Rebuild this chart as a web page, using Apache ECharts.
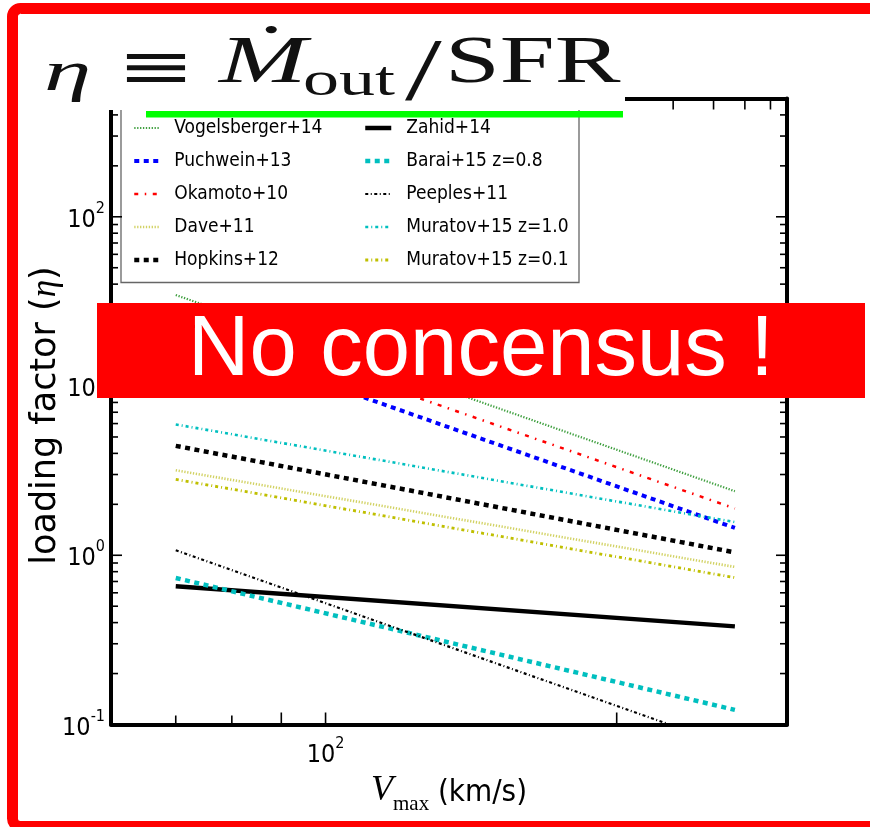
<!DOCTYPE html>
<html>
<head>
<meta charset="utf-8">
<script src="https://cdn.jsdelivr.net/npm/echarts@6/dist/echarts.min.js"></script>
<style>
html,body{margin:0;padding:0;background:#fff;}
#chart{width:870px;height:827px;}
</style>
</head>
<body>
<div id="chart"></div>
<script>
// ---------------- DATA ----------------
const vmaxEnds = [70, 265];                 // km/s, start and end of every relation
const vogelsberger14 = [34.5, 2.39];
const puchwein13     = [21.1, 1.45];
const okamoto10      = [27.0, 1.89];
const dave11         = [3.18, 0.853];
const hopkins12      = [4.43, 1.04];
const zahid14        = [0.656, 0.380];
const barai15z08     = [0.734, 0.122];
const peeples11      = [1.07, 0.073];
const muratov15z10   = [5.93, 1.57];
const muratov15z01   = [2.81, 0.738];

const legendCol1 = ['Vogelsberger+14', 'Puchwein+13', 'Okamoto+10', 'Dave+11', 'Hopkins+12'];
const legendCol2 = ['Zahid+14', 'Barai+15 z=0.8', 'Peeples+11', 'Muratov+15 z=1.0', 'Muratov+15 z=0.1'];

const xRange = [60, 300];
const yRange = [0.1, 500];
const topAxisRange = [5.47, 675];
const xTicksLong = [90, 100, 200];
const xTicksShort = [70, 80];
const topTicks = [300, 400, 500, 600];
const yTicksMajor = [0.1, 1, 10, 100];
const yTicksMinor = [0.2, 0.3, 0.4, 0.5, 0.6, 0.7, 0.8, 0.9,
                     2, 3, 4, 5, 6, 7, 8, 9,
                     20, 30, 40, 50, 60, 70, 80, 90,
                     200, 300, 400];

// ---------------- STYLE ----------------
const FONT_C = '"DejaVu Sans Condensed", "Liberation Sans Narrow", "DejaVu Sans", sans-serif';
const SERIF = '"Liberation Serif", "DejaVu Serif", serif';

const seriesDefs = [
  {name: 'Vogelsberger+14', vals: vogelsberger14, color: '#3f9f3f', width: 2.2, type: [1.3, 1.6]},
  {name: 'Puchwein+13',     vals: puchwein13,     color: '#0000ff', width: 4,   type: [5, 4.5]},
  {name: 'Okamoto+10',      vals: okamoto10,      color: '#ff0000', width: 2.5, type: [4, 6.5, 1.5, 6.5]},
  {name: 'Dave+11',         vals: dave11,         color: '#d2d264', width: 2.6, type: [1.3, 1.6]},
  {name: 'Hopkins+12',      vals: hopkins12,      color: '#000000', width: 4.5, type: [5, 4.5]},
  {name: 'Zahid+14',        vals: zahid14,        color: '#000000', width: 4.5, type: 'solid'},
  {name: 'Barai+15 z=0.8',  vals: barai15z08,     color: '#00bfbf', width: 4.5, type: [5, 4.5]},
  {name: 'Peeples+11',      vals: peeples11,      color: '#000000', width: 2.2, type: [3, 2.5, 1, 2.5]},
  {name: 'Muratov+15 z=1.0',vals: muratov15z10,   color: '#00bfbf', width: 2.6, type: [3, 3, 1, 3]},
  {name: 'Muratov+15 z=0.1',vals: muratov15z01,   color: '#bfbf00', width: 2.8, type: [3, 3, 1, 3]}
];

const lineSeries = seriesDefs.map(d => ({
  name: d.name,
  type: 'line',
  xAxisIndex: 0, yAxisIndex: 0,
  data: vmaxEnds.map((x, i) => [x, d.vals[i]]),
  symbol: 'none', showSymbol: false,
  clip: true, silent: true, animation: false,
  lineStyle: {color: d.color, width: d.width, type: d.type, cap: 'butt'},
  itemStyle: {color: d.color},
  z: 3
}));

function yTickSeries(values, len) {
  return {
    type: 'custom', xAxisIndex: 0, yAxisIndex: 0, silent: true, animation: false, clip: false, z: 6,
    data: values.map(v => [xRange[0], v]),
    renderItem: function (params, api) {
      const cs = params.coordSys;
      const y = api.coord([api.value(0), api.value(1)])[1];
      return {type: 'group', children: [
        {type: 'line', shape: {x1: cs.x, y1: y, x2: cs.x + len, y2: y}, style: {stroke: '#000', lineWidth: 1.6}},
        {type: 'line', shape: {x1: cs.x + cs.width - len, y1: y, x2: cs.x + cs.width, y2: y}, style: {stroke: '#000', lineWidth: 1.6}}
      ]};
    }
  };
}
function xTickSeries(values, len, axisIdx, atTop) {
  return {
    type: 'custom', xAxisIndex: axisIdx, yAxisIndex: 0, silent: true, animation: false, clip: false, z: 6,
    data: values.map(v => [v, 1]),
    renderItem: function (params, api) {
      const cs = params.coordSys;
      const x = api.coord([api.value(0), api.value(1)])[0];
      const y0 = atTop ? cs.y : cs.y + cs.height;
      const y1 = atTop ? cs.y + len : cs.y + cs.height - len;
      return {type: 'line', shape: {x1: x, y1: y0, x2: x, y2: y1}, style: {stroke: '#000', lineWidth: 1.6}};
    }
  };
}

function powLabel(v) {
  const l = Math.log10(v);
  const e = Math.round(l);
  if (Math.abs(l - e) > 1e-6) return '';
  return '{b|10}{e|' + e + '}';
}
const tickRich = {
  b: {fontSize: 25, fontFamily: FONT_C, color: '#000', lineHeight: 32, verticalAlign: 'bottom'},
  e: {fontSize: 16, fontFamily: FONT_C, color: '#000', lineHeight: 16, verticalAlign: 'top'}
};

const legendCommon = {
  orient: 'vertical', top: 118, padding: 0,
  itemHeight: 14, itemGap: 13, selectedMode: false,
  itemStyle: {opacity: 0},
  lineStyle: {width: 'inherit'},
  textStyle: {fontFamily: FONT_C, fontSize: 19, color: '#000', lineHeight: 20, padding: [0, 0, 0, 10]}
};

const chart = echarts.init(document.getElementById('chart'), null, {renderer: 'canvas'});

const option = {
  backgroundColor: '#ffffff',
  animation: false,
  grid: {left: 111, top: 98.5, right: 83, bottom: 102.5, outerBoundsMode: 'none', containLabel: false},
  xAxis: [
    {
      type: 'log', min: xRange[0], max: xRange[1], position: 'bottom',
      axisLine: {show: true, lineStyle: {color: '#000', width: 4}},
      axisTick: {show: false}, splitLine: {show: false}, minorTick: {show: false},
      axisLabel: {show: true, margin: 11, formatter: powLabel, rich: tickRich, showMinLabel: false, showMaxLabel: false},
      name: '{v|V}{s|max}{t| (km/s)}',
      nameLocation: 'middle', nameGap: 44,
      nameTextStyle: {
        rich: {
          v: {fontFamily: SERIF, fontStyle: 'italic', fontSize: 36, color: '#000', lineHeight: 40, verticalAlign: 'bottom'},
          s: {fontFamily: SERIF, fontSize: 21, color: '#000', lineHeight: 30, verticalAlign: 'bottom', padding: [0, 0, -6, 0]},
          t: {fontFamily: FONT_C, fontSize: 31, color: '#000', lineHeight: 40, verticalAlign: 'bottom'}
        }
      }
    },
    {
      type: 'log', min: topAxisRange[0], max: topAxisRange[1], position: 'top',
      axisLine: {show: true, lineStyle: {color: '#000', width: 4}},
      axisTick: {show: false}, axisLabel: {show: false}, splitLine: {show: false}
    }
  ],
  yAxis: [
    {
      type: 'log', min: yRange[0], max: yRange[1], position: 'left',
      axisLine: {show: true, lineStyle: {color: '#000', width: 4}},
      axisTick: {show: false}, splitLine: {show: false}, minorTick: {show: false},
      axisLabel: {show: true, margin: 6, formatter: powLabel, rich: tickRich, showMaxLabel: false},
      name: '{a|loading factor (}{g|η}{a|)}',
      nameLocation: 'middle', nameRotate: 90, nameGap: 48, nameMoveOverlap: false,
      nameTextStyle: {
        padding: [0, 8, 0, 0],
        rich: {
          a: {fontFamily: '"DejaVu Sans", sans-serif', fontSize: 35, color: '#000'},
          g: {fontFamily: SERIF, fontStyle: 'italic', fontSize: 35, color: '#000'}
        }
      }
    },
    {
      type: 'log', min: yRange[0], max: yRange[1], position: 'right',
      axisLine: {show: true, lineStyle: {color: '#000', width: 4}},
      axisTick: {show: false}, axisLabel: {show: false}, splitLine: {show: false}
    }
  ],
  legend: [
    Object.assign({data: legendCol1, left: 132, itemWidth: 25}, legendCommon),
    Object.assign({data: legendCol2, left: 363, itemWidth: 26}, legendCommon)
  ],
  series: lineSeries.concat([
    yTickSeries(yTicksMajor, 11),
    yTickSeries(yTicksMinor, 7),
    xTickSeries(xTicksLong, 12, 0, false),
    xTickSeries(xTicksShort, 9, 0, false),
    xTickSeries(topTicks, 11, 1, true)
  ]),
  graphic: [
    // legend frame
    {type: 'rect', z: 3, shape: {x: 121, y: 95, width: 458, height: 187.5},
     style: {fill: '#ffffff', stroke: '#666666', lineWidth: 1.3}},
    // title white box
    {type: 'rect', z: 100, shape: {x: 20, y: 16, width: 605, height: 94}, style: {fill: '#ffffff'}},
    {type: 'text', z: 101, x: 44, y: 75, scaleX: 1.7,
     style: {text: 'η', fontFamily: SERIF, fontStyle: 'italic', fontSize: 56, fill: '#111', align: 'left', verticalAlign: 'middle'}},
    {type: 'text', z: 101, x: 117, y: 71, scaleX: 1.45,
     style: {text: '≡', fontFamily: '"DejaVu Serif", serif', fontSize: 64, fill: '#111', align: 'left', verticalAlign: 'middle'}},
    {type: 'text', z: 101, x: 219, y: 64, scaleX: 1.55,
     style: {text: 'Ṁ', fontFamily: SERIF, fontStyle: 'italic', fontSize: 68, fill: '#111', align: 'left', verticalAlign: 'middle'}},
    {type: 'text', z: 101, x: 303, y: 82, scaleX: 1.5,
     style: {text: 'out', fontFamily: SERIF, fontSize: 48, fill: '#111', align: 'left', verticalAlign: 'middle'}},
    {type: 'text', z: 101, x: 405, y: 76, scaleX: 1.5,
     style: {text: '/', fontFamily: SERIF, fontSize: 88, fill: '#111', align: 'left', verticalAlign: 'middle'}},
    {type: 'text', z: 101, x: 445, y: 64, scaleX: 1.45,
     style: {text: 'SFR', fontFamily: SERIF, fontSize: 68, fill: '#111', align: 'left', verticalAlign: 'middle'}},
    // green underline
    {type: 'rect', z: 101, shape: {x: 146, y: 111, width: 477, height: 6.5}, style: {fill: '#00ff00'}},
    // red banner
    {type: 'rect', z: 100, shape: {x: 97, y: 303, width: 768, height: 95}, style: {fill: '#ff0000'}},
    {type: 'text', z: 101, x: 481, y: 352,
     style: {text: 'No concensus !', fontFamily: '"Liberation Sans", Arial, sans-serif', fontSize: 85, fill: '#ffffff', align: 'center', verticalAlign: 'middle'}},
    // red outer border
    {type: 'rect', z: 200, shape: {x: 12.5, y: 8.5, width: 870, height: 818, r: 8},
     style: {fill: 'none', stroke: '#ff0000', lineWidth: 11}}
  ]
};
chart.setOption(option);
</script>
</body>
</html>
